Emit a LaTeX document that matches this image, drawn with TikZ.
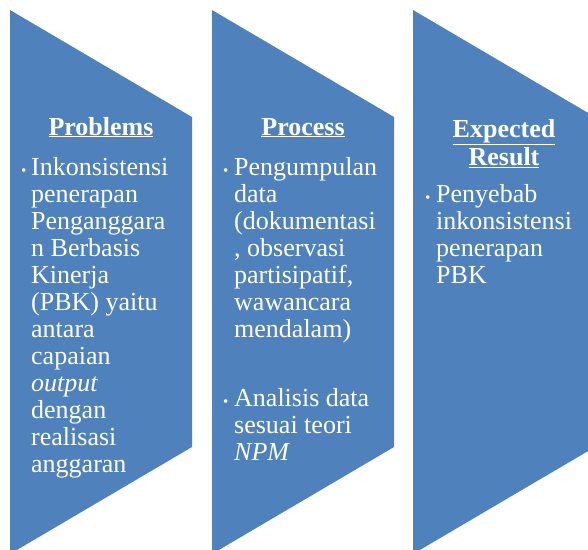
\documentclass[tikz,border=0pt]{standalone}
\usepackage{fontspec}
\setmainfont{Liberation Serif}
\definecolor{chevblue}{HTML}{4F81BD}
\tikzset{
    chevron/.style={fill=chevblue, draw=none},
    head/.style={text=white, font=\bfseries\fontsize{26}{28}\selectfont, anchor=base, inner sep=0pt, align=center},
    item/.style={text=white, font=\fontsize{26}{27}\selectfont, anchor=base west, inner sep=0pt, align=left},
    dot/.style={text=white, font=\fontsize{15}{15}\selectfont, anchor=base west, inner sep=0pt},
}
\begin{document}
\begin{tikzpicture}[x=1pt, y=-1pt]
        \useasboundingbox (0,0) rectangle (588,549);
        \clip (0,0) rectangle (588,549);
        % Draw chevrons
        \foreach \x in {10,212,413} {
            \fill [chevron] (\x,10) -- (\x+182,117) -- (\x+182,447) -- (\x,554) -- cycle;
        }
        % Draw headers (base anchor sits on the last line)
        \node [head] (probhead) at (101,135) {\underline{Problems}};
        \node [head] (prochead) at (303,135) {\underline{Process}};
        \node [head] (resulthead) at (504,165) {\underline{Expected}\\\underline{Result}};
        % Draw bullets
        \node [dot] (probdot) at (21,175) {•};
        \node [item] (probtext) at (31,472) {Inkonsistensi\\penerapan\\Penganggara\\n Berbasis\\Kinerja\\(PBK) yaitu\\antara\\capaian\\\textit{output}\\dengan\\realisasi\\anggaran};
        \node [dot] (procdota) at (223,175) {•};
        \node [item] (proctexta) at (234,337) {Pengumpulan\\data\\(dokumentasi\\, observasi\\partisipatif,\\wawancara\\mendalam)};
        \node [dot] (procdotb) at (223,406) {•};
        \node [item] (proctextb) at (234,460) {Analisis data\\sesuai teori\\\textit{NPM}};
        \node [dot] (resultdot) at (425,202) {•};
        \node [item] (resulttext) at (436,283) {Penyebab\\inkonsistensi\\penerapan\\PBK};
    \end{tikzpicture}
\end{document}
